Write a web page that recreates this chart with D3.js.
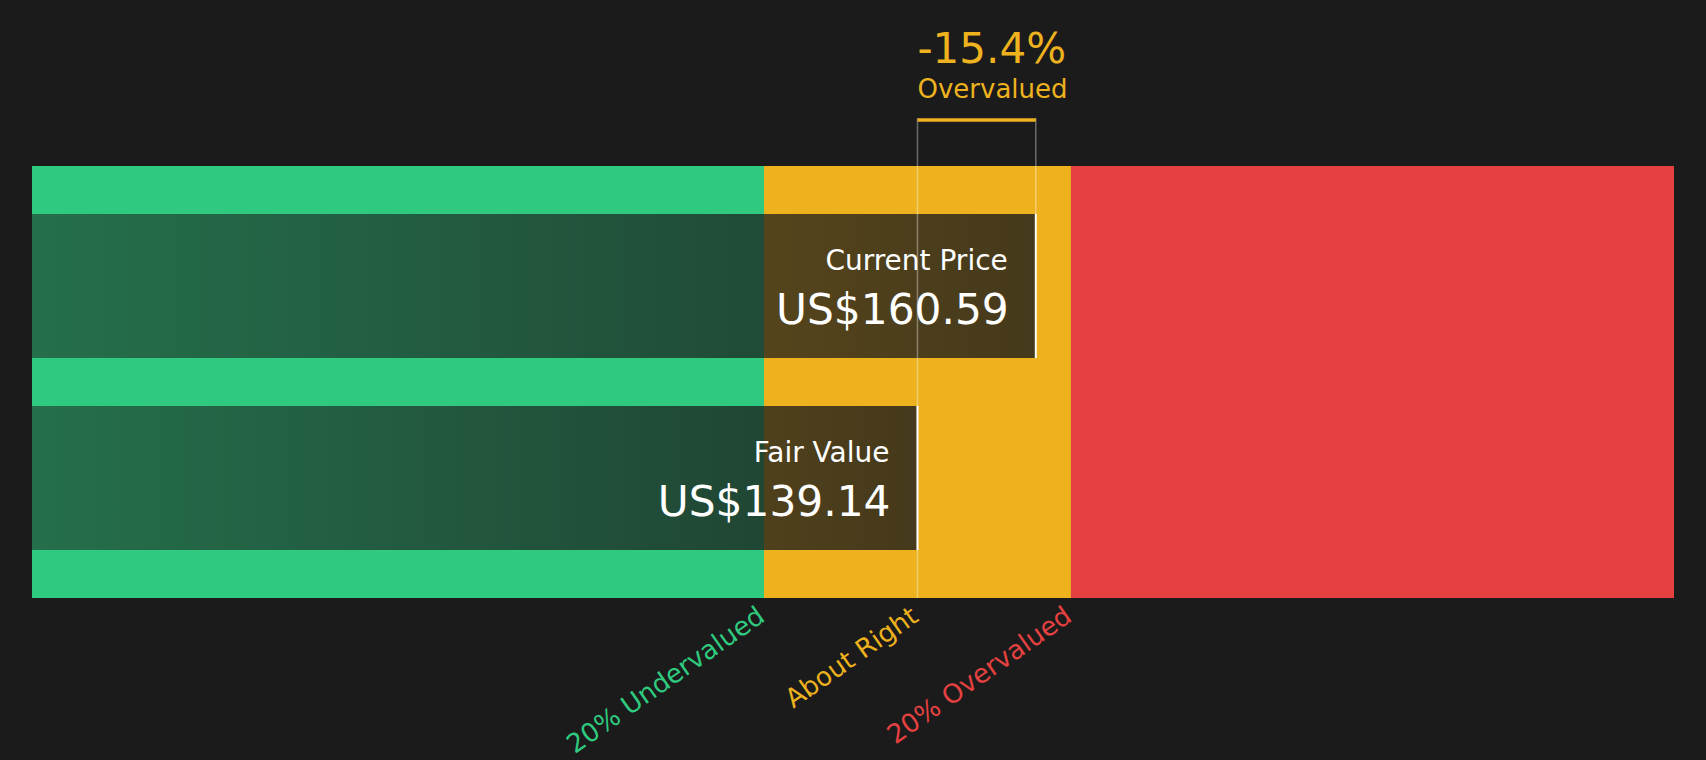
<!DOCTYPE html>
<html>
<head>
<meta charset="utf-8">
<script src="https://cdn.jsdelivr.net/npm/d3@7"></script>
<style>
  html, body { margin: 0; padding: 0; background: #1b1b1b; }
  svg { display: block; font-family: "DejaVu Sans", sans-serif; }
</style>
</head>
<body>
<svg id="chart" width="1706" height="760"></svg>
<script>
// ---- data ----
const categories = ["Current Price", "Fair Value"];
const values = [160.59, 139.14];
const currency = "US$";
const zoneRatios = [0.8, 1.0, 1.2];
const zoneLabels = ["20% Undervalued", "About Right", "20% Overvalued"];
const xDomain = [-21.4, 276.3];

// ---- setup ----
const W = 1706, H = 760;
const svg = d3.select("#chart");
svg.append("rect").attr("width", W).attr("height", H).attr("fill", "#1b1b1b");

const GREEN = "#2fca80", YELLOW = "#edb21e", RED = "#e54141";
const zoneColors = [GREEN, YELLOW, RED];
const zoneTextColors = [GREEN, YELLOW, RED];

const x = d3.scaleLinear().domain(xDomain).range([32, 1674]);
const y = d3.scaleBand().domain(categories).range([166, 598]).paddingInner(0.25).paddingOuter(0.25);

const fair = values[categories.indexOf("Fair Value")];
const price = values[categories.indexOf("Current Price")];

// zones
const zoneEdges = [xDomain[0], zoneRatios[0] * fair, zoneRatios[2] * fair, xDomain[1]];
const zones = zoneColors.map((c, i) => ({ x0: zoneEdges[i], x1: zoneEdges[i + 1], c }));
svg.append("g").selectAll("rect").data(zones).join("rect")
  .attr("x", d => x(d.x0))
  .attr("width", d => x(d.x1) - x(d.x0))
  .attr("y", 166).attr("height", 598 - 166)
  .attr("fill", d => d.c);

// gradient overlay
const defs = svg.append("defs");
const grad = defs.append("linearGradient").attr("id", "barGrad")
  .attr("x1", "0%").attr("x2", "100%").attr("y1", "0%").attr("y2", "0%");
grad.append("stop").attr("offset", "0%").attr("stop-color", "#1b1b1b").attr("stop-opacity", 0.52);
grad.append("stop").attr("offset", "100%").attr("stop-color", "#1b1b1b").attr("stop-opacity", 0.8);

const bars = categories.map((c, i) => ({ c, v: values[i] }));
const barG = svg.append("g");
barG.selectAll("rect.bar").data(bars).join("rect")
  .attr("class", "bar")
  .attr("x", x(xDomain[0]))
  .attr("y", d => y(d.c))
  .attr("width", d => x(d.v) - x(xDomain[0]))
  .attr("height", y.bandwidth())
  .attr("fill", "url(#barGrad)");

// bracket lines
svg.append("line")
  .attr("x1", x(fair)).attr("x2", x(fair))
  .attr("y1", 118).attr("y2", 598)
  .attr("stroke", "rgba(255,255,255,0.35)").attr("stroke-width", 1.5);
svg.append("line")
  .attr("x1", x(price)).attr("x2", x(price))
  .attr("y1", 118).attr("y2", y("Current Price"))
  .attr("stroke", "rgba(255,255,255,0.35)").attr("stroke-width", 1.5);
svg.append("line")
  .attr("x1", x(Math.min(fair, price))).attr("x2", x(Math.max(fair, price)))
  .attr("y1", 120).attr("y2", 120)
  .attr("stroke", YELLOW).attr("stroke-width", 3.5);

// white right edges
barG.selectAll("line.edge").data(bars).join("line")
  .attr("class", "edge")
  .attr("x1", d => x(d.v)).attr("x2", d => x(d.v))
  .attr("y1", d => y(d.c)).attr("y2", d => y(d.c) + y.bandwidth())
  .attr("stroke", "#ffffff").attr("stroke-width", 2);

// bar labels
barG.selectAll("text.name").data(bars).join("text")
  .attr("class", "name")
  .attr("x", d => x(d.v) - 28)
  .attr("y", d => y(d.c) + 56)
  .attr("text-anchor", "end")
  .attr("fill", "#ffffff")
  .attr("font-size", 28)
  .text(d => d.c);
barG.selectAll("text.val").data(bars).join("text")
  .attr("class", "val")
  .attr("x", d => x(d.v) - 27)
  .attr("y", d => y(d.c) + 109.5)
  .attr("text-anchor", "end")
  .attr("fill", "#ffffff")
  .attr("font-size", 42.3)
  .text(d => currency + d3.format(".2f")(d.v));

// headline
const diff = (fair - price) / fair;
const headX = x(Math.min(fair, price));
svg.append("text")
  .attr("x", headX).attr("y", 63)
  .attr("fill", YELLOW).attr("font-size", 42)
  .text(d3.format(".1%")(diff).replace("−", "-"));
svg.append("text")
  .attr("x", headX).attr("y", 98)
  .attr("fill", YELLOW).attr("font-size", 26)
  .text(diff < 0 ? "Overvalued" : "Undervalued");

// axis labels
const axis = d3.axisBottom(x)
  .tickValues(zoneRatios.map(r => r * fair))
  .tickFormat((d, i) => zoneLabels[i])
  .tickSize(0);
const axG = svg.append("g").attr("transform", "translate(0,598)").call(axis);
axG.select(".domain").remove();
axG.selectAll(".tick text")
  .attr("x", 0).attr("y", 0).attr("dy", 0)
  .attr("transform", "translate(2,22) rotate(-35)")
  .attr("text-anchor", "end")
  .attr("font-size", 26.2)
  .attr("font-family", "DejaVu Sans, sans-serif")
  .attr("fill", (d, i) => zoneTextColors[i]);
</script>
</body>
</html>
